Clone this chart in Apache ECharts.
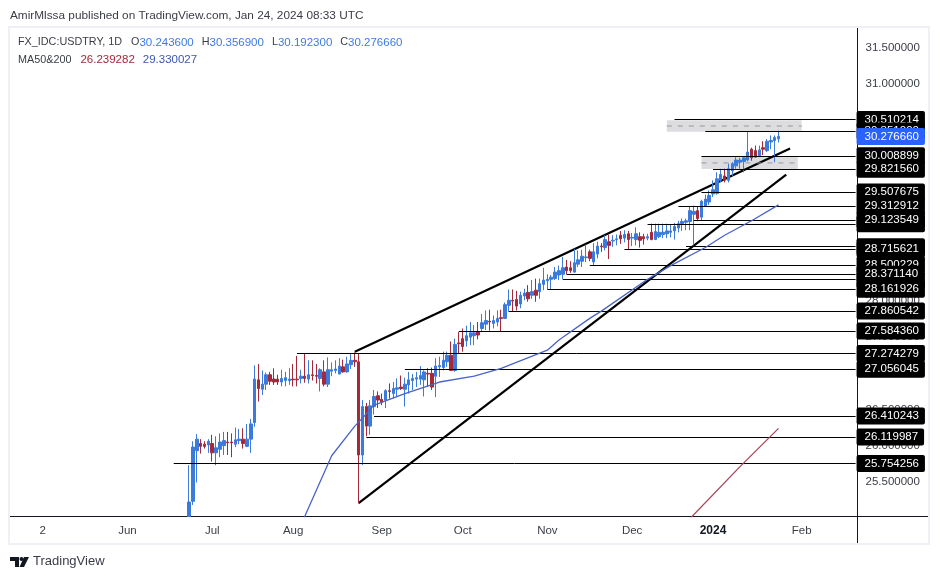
<!DOCTYPE html>
<html>
<head>
<meta charset="utf-8">
<style>html,body{margin:0;padding:0;background:#fff}#main{width:939px;height:579px}</style>
<script src="https://cdn.jsdelivr.net/npm/echarts@6/dist/echarts.min.js"></script>
</head>
<body>
<div id="main"></div>
<script>
// trading days on the axis, candles start at index 46
var firstDay = '2023-04-20';
var dayCount = 220;
var candleStart = 46;
var tickDays = ['2023-05-02','2023-06-01','2023-07-03','2023-08-01','2023-09-01','2023-10-02','2023-11-01','2023-12-01','2024-01-01','2024-02-01'];
var tickNames = ['2','Jun','Jul','Aug','Sep','Oct','Nov','Dec','2024','Feb'];
var priceTicks = [25.5,26,26.5,27,27.5,28,28.5,29,29.5,30,30.5,31,31.5];

// open, close, low, high (first bar runs off the bottom of the pane)
var candles = [
[25.02,25.22,25.02,25.73],[25.23,25.98,25.18,26.06],[25.93,26.09,25.49,26.16],[26.03,25.99,25.89,26.09],
[26.02,25.99,25.96,26.06],[26.01,26.06,25.9,26.09],[26.03,25.9,25.78,26.15],[25.9,25.97,25.73,26.13],
[25.95,26.05,25.84,26.17],[26,26.07,25.87,26.19],[26.05,26.04,25.87,26.19],[26.05,26.04,25.84,26.17],
[26.02,26.08,25.98,26.25],[26.07,26.09,26.02,26.23],[26.09,26.03,25.96,26.24],[25.99,26.09,25.98,26.3],
[26.09,26.3,25.9,26.37],[26.32,26.92,26.26,27.11],[26.91,26.79,26.61,27.13],[26.78,26.85,26.7,27.04],
[26.85,26.98,26.77,27.01],[26.98,26.89,26.84,27.02],[26.92,26.88,26.84,27.07],[26.92,26.88,26.84,26.98],
[26.88,26.93,26.82,27.05],[26.9,26.94,26.82,27.02],[26.9,26.92,26.84,27.07],[26.92,26.91,26.82,27.13],
[26.92,26.91,26.82,27.24],[26.93,26.96,26.86,27.05],[26.96,26.93,26.87,27.28],[26.92,26.98,26.86,27.18],
[26.98,26.97,26.9,27.18],[26.97,26.96,26.86,27.13],[26.93,27.05,26.75,27.07],[27.02,26.85,26.82,27.18],
[26.85,27.05,26.81,27.22],[27.03,27.05,26.96,27.15],[27.04,27.06,27,27.18],[26.99,27.1,26.99,27.21],
[27.09,27.02,27.01,27.19],[27.02,27.13,27.01,27.23],[27.12,27.18,27.06,27.28],[27.18,27.16,27.09,27.29],
[27.16,25.87,25.2,27.28],[25.87,26.54,25.73,26.63],[26.54,26.27,26.13,26.59],[26.27,26.55,26.15,26.63],
[26.54,26.68,26.43,26.77],[26.69,26.63,26.52,26.75],[26.64,26.6,26.56,26.72],[26.63,26.76,26.52,26.78],
[26.76,26.75,26.65,26.86],[26.72,26.79,26.65,26.88],[26.78,26.8,26.67,26.93],[26.81,26.79,26.77,26.97],
[26.78,26.85,26.54,26.94],[26.84,26.91,26.72,27.02],[26.9,26.93,26.77,26.99],[26.92,26.94,26.81,27.02],
[26.92,26.97,26.84,27.1],[26.91,27.02,26.68,27.04],[27,26.99,26.81,27.07],[27,26.81,26.77,27.08],
[26.96,27.1,26.67,27.21],[27.09,27.11,26.95,27.23],[27.08,27.18,27.04,27.3],[27.16,27.25,27.09,27.3],
[27.25,27.04,27.04,27.44],[27.04,27.4,27.02,27.48],[27.42,27.41,27.27,27.57],[27.48,27.37,27.3,27.62],
[27.45,27.52,27.37,27.66],[27.5,27.56,27.39,27.71],[27.52,27.56,27.39,27.67],[27.57,27.53,27.47,27.71],
[27.62,27.7,27.57,27.82],[27.68,27.73,27.6,27.87],[27.72,27.71,27.59,27.88],[27.69,27.73,27.62,27.8],
[27.71,27.76,27.65,27.87],[27.77,27.76,27.58,27.88],[27.76,27.95,27.75,27.98],[27.94,28.01,27.85,28.16],
[28.01,28,27.85,28.16],[28.02,27.93,27.87,28.14],[27.96,28.08,27.9,28.13],[28.07,28.11,28.01,28.17],
[28.12,28.03,27.99,28.22],[28.08,28.13,28.03,28.29],[28.15,28.08,27.99,28.31],[28.13,28.24,28.03,28.31],
[28.23,28.29,28.15,28.46],[28.28,28.3,28.16,28.37],[28.3,28.33,28.16,28.36],[28.31,28.4,28.29,28.47],
[28.36,28.42,28.29,28.49],[28.37,28.46,28.3,28.61],[28.47,28.42,28.37,28.57],[28.46,28.42,28.39,28.55],
[28.4,28.53,28.39,28.72],[28.51,28.57,28.47,28.7],[28.55,28.62,28.47,28.71],[28.6,28.61,28.54,28.78],
[28.68,28.59,28.55,28.71],[28.54,28.68,28.49,28.8],[28.65,28.76,28.59,28.82],[28.76,28.75,28.68,28.8],
[28.74,28.85,28.7,28.91],[28.82,28.77,28.58,28.92],[28.83,28.84,28.75,28.91],[28.85,28.86,28.77,28.92],
[28.91,28.86,28.79,28.97],[28.87,28.92,28.81,28.98],[28.93,28.85,28.71,28.97],[28.87,28.88,28.76,28.94],
[28.85,28.93,28.77,29.02],[28.89,28.84,28.74,28.95],[28.89,28.86,28.78,28.93],[28.87,28.89,28.84,28.93],
[28.95,28.85,28.84,29.07],[28.85,28.96,28.85,29.07],[28.89,28.95,28.87,29.07],[28.92,28.95,28.87,29.07],
[28.93,28.97,28.87,29.07],[28.95,28.97,28.88,29.06],[28.97,29.03,28.85,29.08],[29.01,29.07,28.95,29.11],
[29.07,29.1,28.97,29.14],[29.09,29.11,28.98,29.14],[29.1,29.25,28.98,29.31],[29.2,29.24,28.77,29.32],
[29.25,29.14,29.12,29.31],[29.16,29.38,29.12,29.4],[29.31,29.41,29.3,29.47],[29.37,29.46,29.33,29.53],
[29.48,29.54,29.44,29.67],[29.49,29.69,29.47,29.78],[29.67,29.75,29.64,29.83],[29.73,29.67,29.64,29.83],
[29.67,29.83,29.64,29.9],[29.8,29.9,29.73,29.92],[29.87,29.95,29.83,29.99],[29.92,29.95,29.83,29.98],
[29.93,29.98,29.78,30],[29.95,30.06,29.93,30.35],[30.1,29.98,29.94,30.12],[30.08,29.99,29.99,30.15],
[30.01,30.09,29.99,30.15],[30.12,30.1,30.02,30.21],[30.08,30.21,30.06,30.24],[30.2,30.22,30.1,30.29],
[30.22,30.26,29.92,30.29],[30.2436,30.27666,30.1923,30.3569]
];

// moving averages, read at these bar indexes
var ma50Bars = [75,76,83,89,91,94,102,111,120,127,139,142,150,153,165,171,180,185,192,199];
var ma50Values = [24.84,25.02,25.86,26.27,26.38,26.56,26.72,26.88,26.96,27.07,27.32,27.46,27.76,27.86,28.3,28.49,28.74,28.91,29.11,29.33];
var ma200Bars = [176,189,199];
var ma200Values = [24.99,25.71,26.239];

// horizontal rays, array order = which tag sits on top
var rayPrices = [30.510214,30.351,30.008899,29.82156,29.507675,29.312912,29.068,29.123549,28.751,28.715621,28.500229,28.296,28.37114,28.161926,27.860542,27.58436,27.274279,27.056045,26.410243,26.119987,25.754256];
var rayBars = [172,180,179,182,179,173,165,177,175,159,150,143,144,139,129,116,74,102,94,92,42];
var lastPrice = 30.27666;

// trend lines
var upperBars = [89,202], upperPrices = [27.297,30.11];
var lowerBars = [90,201], lowerPrices = [25.206,29.748];

// gray zones with dashed mid line
var zoneBars = [[170,205],[179,204]];
var zonePrices = [[30.5,30.34],[30,29.827]];
var zoneMids = [30.42,29.91];

var headerO = '30.243600', headerH = '30.356900', headerL = '30.192300', headerC = '30.276660';
var ma200Text = '26.239282', ma50Text = '29.330027';

var UP = '#3a7bdc', DOWN = '#a6283a', INK = '#131722', TEXT = '#3a3d45';
var FONT = '"Liberation Sans", Arial, sans-serif';

// weekdays only
var cats = [];
var d = new Date(firstDay + 'T00:00:00Z');
while (cats.length < dayCount) {
	if (d.getUTCDay() != 0 && d.getUTCDay() != 6) {
		cats.push(d.toISOString().slice(0, 10));
	}
	d.setUTCDate(d.getUTCDate() + 1);
}

function pairs(bars, values) {
	return bars.map(function (b, i) { return [b, values[i]]; });
}

var tagLabel = {
	show: true, position: 'end', distance: 1, color: '#fff', backgroundColor: '#000',
	fontFamily: FONT, fontSize: 11.5, lineHeight: 17, padding: [0, 6, 0, 8], borderRadius: 2
};

var rayData = rayPrices.map(function (p, i) {
	return [
		{coord: [cats[rayBars[i]], p], label: Object.assign({}, tagLabel, {formatter: p.toFixed(6)})},
		{coord: [cats[dayCount - 1], p]}
	];
});
// last price tag, no line
rayData.push([
	{coord: [cats[190], lastPrice], lineStyle: {color: 'rgba(0,0,0,0)'},
		label: Object.assign({}, tagLabel, {formatter: lastPrice.toFixed(6), backgroundColor: '#2962ff'})},
	{coord: [cats[dayCount - 1], lastPrice]}
]);

var zoneData = zoneBars.map(function (b, i) {
	return [{coord: [cats[b[0]], zonePrices[i][0]]}, {coord: [cats[b[1]], zonePrices[i][1]]}];
});

var series = [
	{type: 'line', name: 'upper', z: 2, symbol: 'none', lineStyle: {color: '#000', width: 2.2}, data: pairs(upperBars, upperPrices)},
	{type: 'line', name: 'lower', z: 2, symbol: 'none', lineStyle: {color: '#000', width: 2.2}, data: pairs(lowerBars, lowerPrices)},
	{type: 'line', name: 'zones', z: 3, symbol: 'none', data: [],
		markArea: {silent: true, itemStyle: {color: 'rgba(198,198,204,0.6)'}, data: zoneData}},
	{
		type: 'candlestick', z: 4, barWidth: 3,
		itemStyle: {color: UP, color0: DOWN, borderColor: UP, borderColor0: DOWN, borderWidth: 1},
		data: new Array(candleStart).fill('-').concat(candles)
	},
	{type: 'line', name: 'ma50', z: 5, symbol: 'none', lineStyle: {color: '#4a63c8', width: 1.3}, data: pairs(ma50Bars, ma50Values)},
	{type: 'line', name: 'ma200', z: 5, symbol: 'none', lineStyle: {color: '#a8455c', width: 1.3}, data: pairs(ma200Bars, ma200Values)},
	{type: 'line', name: 'rays', z: 6, symbol: 'none', data: [],
		markLine: {silent: true, symbol: 'none', animation: false,
			lineStyle: {color: '#000', width: 1, type: 'solid'}, data: rayData}}
];
zoneMids.forEach(function (m, i) {
	series.push({type: 'line', z: 3, symbol: 'none', lineStyle: {color: '#9598a1', width: 1, type: [5, 6]},
		data: [[zoneBars[i][0], m], [zoneBars[i][1], m]]});
});

var myChart = echarts.init(document.getElementById('main'));
myChart.setOption({
	animation: false,
	backgroundColor: '#fff',
	textStyle: {fontFamily: FONT},
	grid: {left: 10, right: 81.5, top: 28, bottom: 62.5},
	xAxis: {
		type: 'category', data: cats, boundaryGap: true,
		axisLine: {show: false}, axisTick: {show: false}, splitLine: {show: false},
		axisLabel: {
			margin: 8, fontSize: 11.5, color: TEXT, fontFamily: FONT, hideOverlap: false,
			interval: function (i, v) { return tickDays.indexOf(v) >= 0; },
			formatter: function (v) {
				var n = tickNames[tickDays.indexOf(v)];
				return n == '2024' ? '{b|' + n + '}' : n;
			},
			rich: {b: {fontSize: 12, fontWeight: 'bold', color: INK, fontFamily: FONT}}
		}
	},
	yAxis: {
		type: 'value', position: 'right', min: 25.02, max: 31.776, scale: true,
		axisLine: {show: false}, axisTick: {show: false}, splitLine: {show: false},
		axisLabel: {
			customValues: priceTicks, margin: 8, fontSize: 11.5, color: TEXT, fontFamily: FONT,
			hideOverlap: false, showMinLabel: true, showMaxLabel: true,
			formatter: function (v) { return v.toFixed(6); }
		}
	},
	series: series,
	graphic: [
		{type: 'rect', z: 0, silent: true, shape: {x: 9, y: 27, width: 920, height: 517},
			style: {fill: 'none', stroke: '#eef0f5', lineWidth: 2}},
		{type: 'line', z: 1, silent: true, shape: {x1: 10, y1: 516.5, x2: 928, y2: 516.5}, style: {stroke: INK, lineWidth: 1}},
		{type: 'line', z: 1, silent: true, shape: {x1: 857.5, y1: 28, x2: 857.5, y2: 543}, style: {stroke: INK, lineWidth: 1}},
		{type: 'text', silent: true, left: 10, top: 9.5,
			style: {text: 'AmirMlssa published on TradingView.com, Jan 24, 2024 08:33 UTC', fill: '#3a3d45', font: '11.8px ' + FONT}},
		{type: 'text', silent: true, left: 18, top: 36.5, style: {
			text: 'FX_IDC:USDTRY, 1D   O{b|' + headerO + '} H{b|' + headerH + '} L{b|' + headerL + '} C{b|' + headerC + '}',
			fill: '#3a3d45', font: '10.8px ' + FONT, rich: {b: {fill: '#3f7be0', font: '11.5px ' + FONT, padding: [0, 5, 0, 0]}}
		}},
		{type: 'text', silent: true, left: 18, top: 54, style: {
			text: 'MA50&200   {r|' + ma200Text + '}  {u|' + ma50Text + '}',
			fill: '#3a3d45', font: '10.8px ' + FONT,
			rich: {r: {fill: '#a6283a', font: '11.5px ' + FONT, padding: [0, 2, 0, 0]}, u: {fill: '#3a56b0', font: '11.5px ' + FONT}}
		}},
		// logo
		{type: 'polygon', silent: true, shape: {points: [[10,557],[19,557],[19,567],[15,567],[15,561],[10,561]]}, style: {fill: '#131722'}},
		{type: 'circle', silent: true, shape: {cx: 21.5, cy: 559, r: 2}, style: {fill: '#131722'}},
		{type: 'polygon', silent: true, shape: {points: [[24,557],[29,557],[24,567],[19.5,567]]}, style: {fill: '#131722'}},
		{type: 'text', silent: true, left: 33, top: 555, style: {text: 'TradingView', fill: '#3a3d45', font: '13px ' + FONT}}
	]
});
</script>
</body>
</html>
